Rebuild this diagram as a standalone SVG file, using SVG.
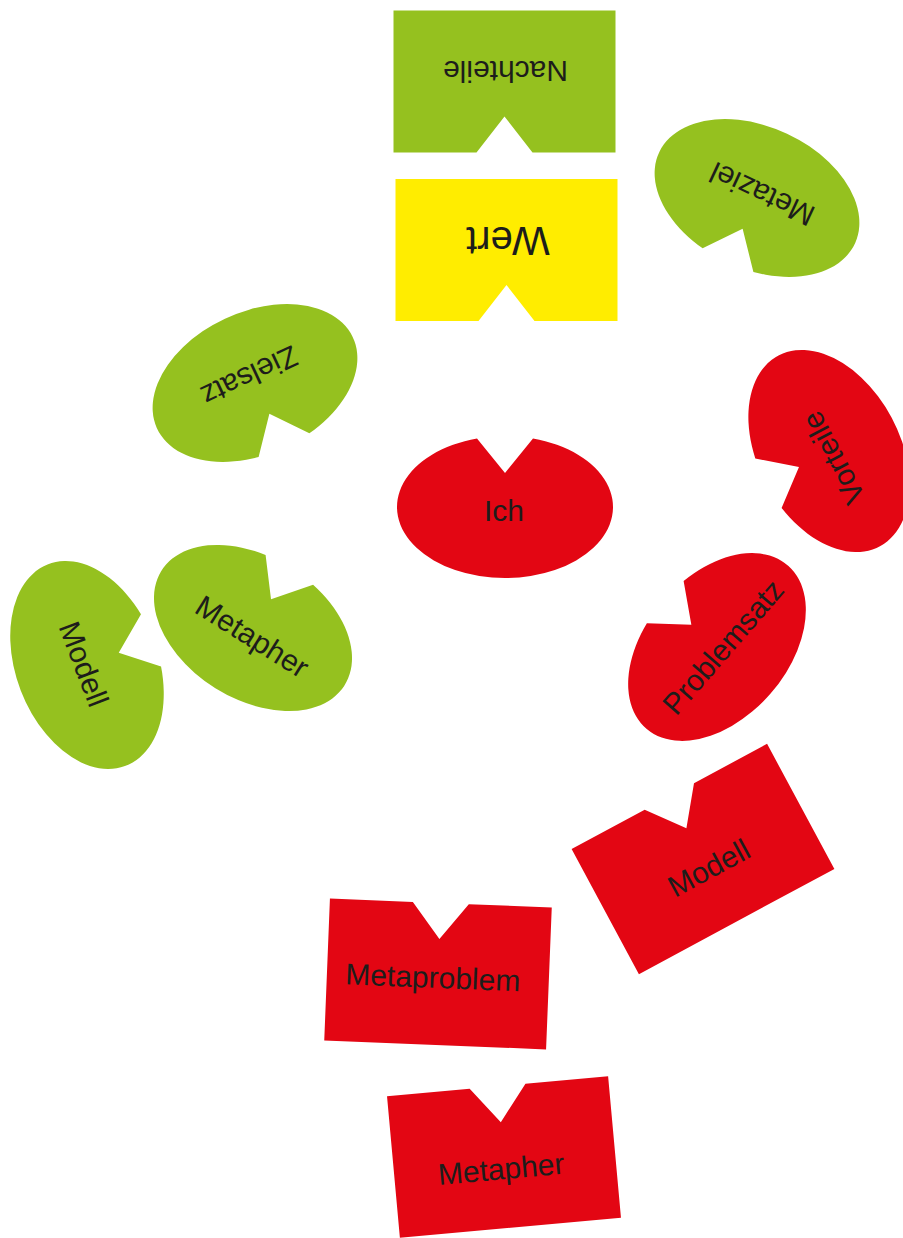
<svg xmlns="http://www.w3.org/2000/svg" xmlns:xlink="http://www.w3.org/1999/xlink" width="903" height="1238" viewBox="0 0 903 1238">
<style>
.g{fill:#95c11f}.y{fill:#ffed00}.r{fill:#e30613}
text{font-family:"Liberation Sans",Arial,sans-serif;font-size:30px;fill:#1d1d1b;text-anchor:middle}
</style>
<defs>
<path id="egg" d="M28,-68.57 A108 71 0 1 1 -28,-68.57 L0,-34 Z"/>
<path id="card" d="M-111,-71 L-28,-71 L0,-35 L28,-71 L111,-71 L111,71 L-111,71 Z"/>
</defs>
<rect width="903" height="1238" fill="#fff"/>
<g id="connectors"/>
<g id="nachteile" transform="translate(504.5,81.5) rotate(180)"><use href="#card" class="g"/><text x="-1" y="21">Nachteile</text></g>
<g id="wert" transform="translate(506.5,250) rotate(180)"><use href="#card" class="y"/><text x="-1.5" y="23" style="font-size:40px">Wert</text></g>
<g id="metaziel" transform="translate(757,198) rotate(205)"><use href="#egg" class="g"/><text x="-3" y="16">Metaziel</text></g>
<g id="zielsatz" transform="translate(255,383) rotate(155)"><use href="#egg" class="g"/><text x="2" y="19">Zielsatz</text></g>
<g id="ich" transform="translate(505,507)"><use href="#egg" class="r"/><text x="-1" y="14">Ich</text></g>
<g id="vorteile" transform="translate(829,451) rotate(242)"><use href="#egg" class="r"/><text x="-8" y="11">Vorteile</text></g>
<g id="problemsatz" transform="translate(717,647) rotate(-49)"><use href="#egg" class="r"/><text x="4" y="15">Problemsatz</text></g>
<g id="metapher-green" transform="translate(253,628) rotate(32)"><use href="#egg" class="g"/><text x="4" y="18">Metapher</text></g>
<g id="modell-green" transform="translate(87,665) rotate(69)"><use href="#egg" class="g"/><text x="-2" y="13">Modell</text></g>
<g id="modell-red" transform="translate(703,859) rotate(-28.3)"><use href="#card" class="r"/><text x="1" y="21">Modell</text></g>
<g id="metaproblem" transform="translate(438,974) rotate(2.3)"><use href="#card" class="r"/><text x="-5" y="14">Metaproblem</text></g>
<g id="metapher-red" transform="translate(504,1157) rotate(-5.2)"><use href="#card" class="r"/><text x="-4" y="22">Metapher</text></g>
</svg>
